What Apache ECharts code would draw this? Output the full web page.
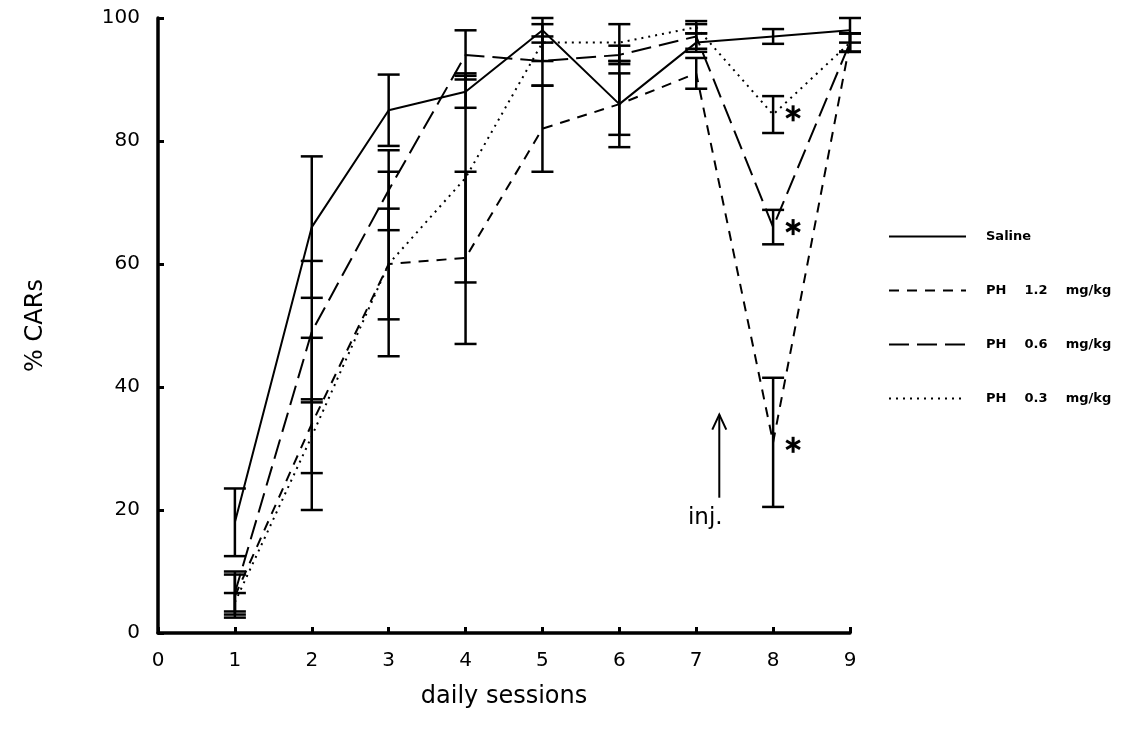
<!DOCTYPE html>
<html><head><meta charset="utf-8">
<script src="https://cdn.jsdelivr.net/npm/echarts@6/dist/echarts.min.js"></script>
<style>html,body{margin:0;padding:0;background:#fff}#c{width:1129px;height:742px}</style>
</head><body><div id="c"></div>
<script>
const sessions = [1, 2, 3, 4, 5, 6, 7, 8, 9];
const seriesNames = ['Saline', 'PH    1.2    mg/kg', 'PH    0.6    mg/kg', 'PH    0.3    mg/kg'];
const saline    = [18, 66, 85, 88, 98, 86, 96, 97, 98];
const salineErr = [5.5, 11.5, 5.8, 2.6, 2, 5, 1.5, 1.2, 2];
const ph12      = [6, 34, 60, 61, 82, 86, 91, 31, 96];
const ph12Err   = [3.5, 14, 9, 14, 7, 7, 2.5, 10.5, 1.5];
const ph06      = [6.5, 49, 72, 94, 93, 94, 97, 66, 96];
const ph06Err   = [3.5, 11.5, 6.5, 4, 4, 1.5, 2, 2.8, 1.5];
const ph03      = [5, 32, 60, 74, 96, 96, 98.5, 84.3, 96];
const ph03Err   = [1.5, 6, 15, 17, 3, 3, 1, 3, 1.5];
const starPoints = [[8.26, 84.5], [8.26, 66], [8.26, 30.6]];
const injArrow = [[7.3, 22, 35.5]];
const injLabel = 'inj.';

const FONT = 'DejaVu Sans';
const lineStyles = [
  {type: 'solid'},
  {type: [10, 8]},
  {type: [20, 8]},
  {type: [2, 5]}
];
const means = [saline, ph12, ph06, ph03];
const errs = [salineErr, ph12Err, ph06Err, ph03Err];

const series = [];
means.forEach((m, i) => {
  series.push({
    name: seriesNames[i], type: 'line', symbol: 'none',
    data: sessions.map((s, k) => [s, m[k]]),
    lineStyle: Object.assign({color: '#000', width: 2}, lineStyles[i]),
    itemStyle: {color: '#000'}, z: 3
  });
  series.push({
    type: 'custom', z: 4,
    data: sessions.map((s, k) => [s, m[k] - errs[i][k], m[k] + errs[i][k]]),
    renderItem: (p, api) => {
      const lo = api.coord([api.value(0), api.value(1)]);
      const hi = api.coord([api.value(0), api.value(2)]);
      const w = 11;
      const st = {stroke: '#000', lineWidth: 2.5};
      return {type: 'group', children: [
        {type: 'line', shape: {x1: lo[0], y1: lo[1], x2: hi[0], y2: hi[1]}, style: st},
        {type: 'line', shape: {x1: lo[0] - w, y1: lo[1], x2: lo[0] + w, y2: lo[1]}, style: st},
        {type: 'line', shape: {x1: hi[0] - w, y1: hi[1], x2: hi[0] + w, y2: hi[1]}, style: st}
      ]};
    }
  });
});
series.push({
  type: 'custom', z: 5, data: starPoints,
  renderItem: (p, api) => {
    const c = api.coord([api.value(0), api.value(1)]);
    const r = 8, st = {stroke: '#000', lineWidth: 3};
    const ch = [];
    for (let a = 0; a < 3; a++) {
      const ang = Math.PI / 2 + a * Math.PI / 3;
      ch.push({type: 'line', shape: {x1: c[0] - r * Math.cos(ang), y1: c[1] - r * Math.sin(ang),
        x2: c[0] + r * Math.cos(ang), y2: c[1] + r * Math.sin(ang)}, style: st});
    }
    return {type: 'group', children: ch};
  }
});
series.push({
  type: 'custom', z: 5, data: injArrow,
  renderItem: (p, api) => {
    const b = api.coord([api.value(0), api.value(1)]);
    const t = api.coord([api.value(0), api.value(2)]);
    const st = {stroke: '#000', lineWidth: 2};
    return {type: 'group', children: [
      {type: 'line', shape: {x1: b[0], y1: b[1], x2: t[0], y2: t[1]}, style: st},
      {type: 'polyline', shape: {points: [[t[0] - 7, t[1] + 15], [t[0], t[1]], [t[0] + 7, t[1] + 15]]}, style: Object.assign({fill: null}, st)},
      {type: 'text', x: b[0] - 14, y: b[1] + 20, style: {text: injLabel, font: '23px ' + FONT, fill: '#000', align: 'center', verticalAlign: 'middle'}}
    ]};
  }
});

const chart = echarts.init(document.getElementById('c'));
chart.setOption({
  animation: false,
  backgroundColor: '#fff',
  grid: {left: 158, right: 279, top: 18, bottom: 109},
  legend: {
    data: seriesNames, orient: 'vertical', left: 883, top: 225,
    itemWidth: 77, itemHeight: 14, itemGap: 41,
    itemStyle: {color: 'rgba(0,0,0,0)', borderWidth: 0, opacity: 0},
    textStyle: {fontFamily: FONT, fontWeight: 'bold', fontSize: 13, color: '#000', padding: [0, 0, 0, 15]}
  },
  xAxis: {
    type: 'value', min: 0, max: 9, interval: 1,
    name: 'daily sessions', nameLocation: 'middle', nameGap: 52,
    nameTextStyle: {fontFamily: FONT, fontSize: 24, color: '#000'},
    axisLine: {lineStyle: {color: '#000', width: 3.5}},
    axisTick: {inside: true, length: 6, lineStyle: {width: 3, color: '#000'}},
    axisLabel: {fontFamily: FONT, fontSize: 20, color: '#000', margin: 18},
    splitLine: {show: false}
  },
  yAxis: {
    type: 'value', min: 0, max: 100, interval: 20,
    name: '% CARs', nameLocation: 'middle', nameGap: 110, nameRotate: 90,
    nameTextStyle: {fontFamily: FONT, fontSize: 24, color: '#000'},
    axisLine: {show: true, lineStyle: {color: '#000', width: 3.5}},
    axisTick: {show: true, inside: true, length: 6, lineStyle: {width: 3, color: '#000'}},
    axisLabel: {fontFamily: FONT, fontSize: 20, color: '#000', margin: 18},
    splitLine: {show: false}
  },
  series: series
});
</script></body></html>
